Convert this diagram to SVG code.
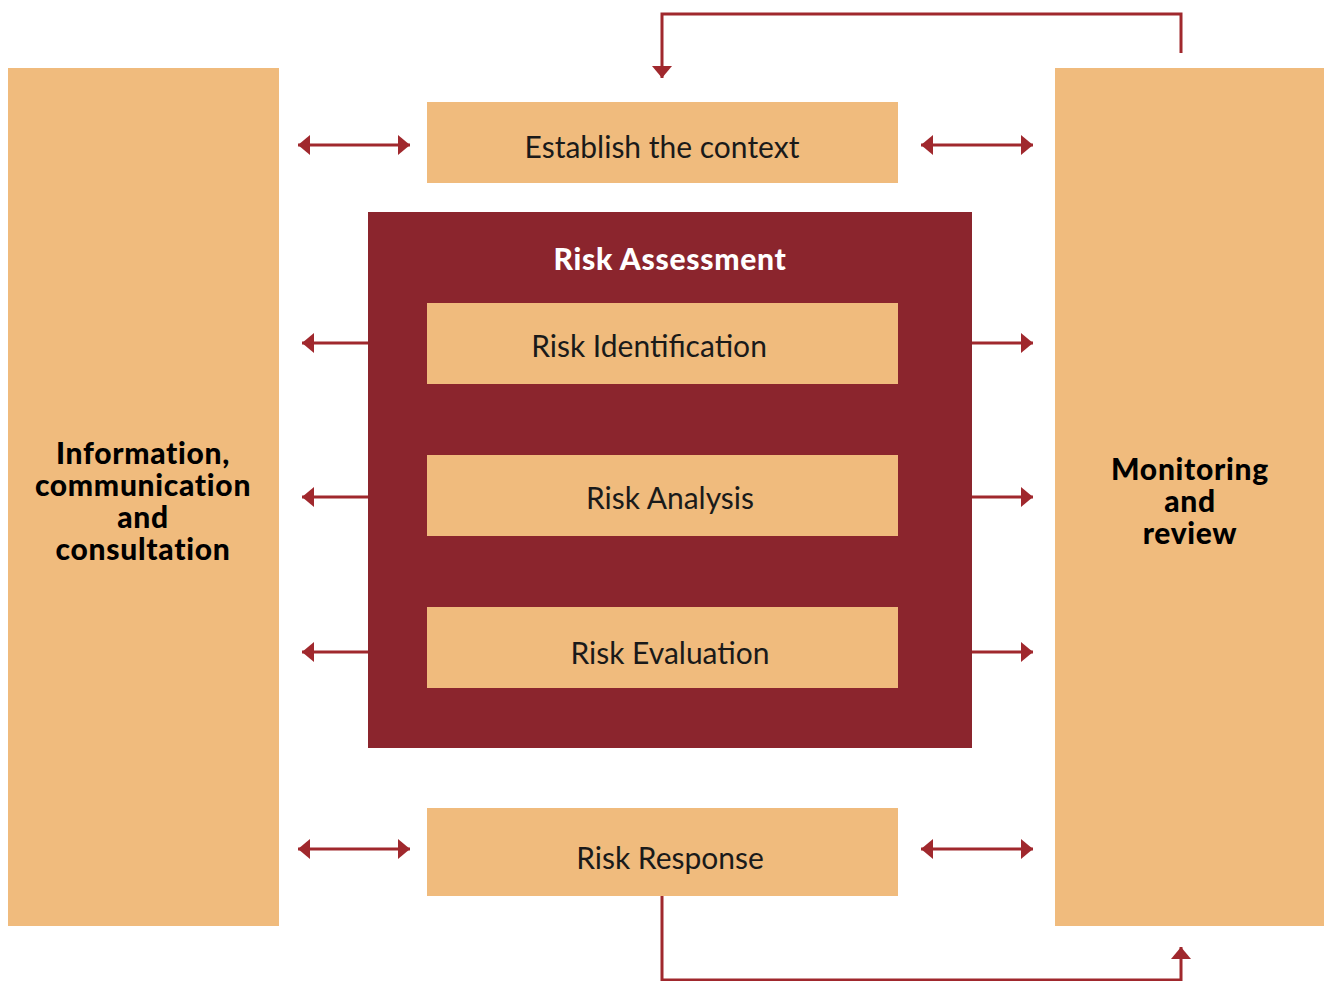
<svg xmlns="http://www.w3.org/2000/svg" width="1324" height="981" viewBox="0 0 1324 981">
  <style>
    .box { fill: #F0BB7D; }
    .frame { fill: #8B252D; }
    .lbl { font-family: Lato, "Open Sans", sans-serif; font-size: 30px; fill: #1a1a1a; text-anchor: middle; dominant-baseline: central; }
    .side { font-family: Lato, "Open Sans", sans-serif; font-size: 30px; font-weight: 900; letter-spacing: 0.7px; fill: #000; text-anchor: middle; }
    .title { font-family: Lato, "Open Sans", sans-serif; font-size: 30px; font-weight: 900; letter-spacing: 0.7px; fill: #fff; text-anchor: middle; dominant-baseline: central; }
    .conn { fill: none; stroke: #A0282D; stroke-width: 3; }
  </style>
  <defs>
    <marker id="head" viewBox="0 0 12 20" refX="12" refY="10" markerWidth="12" markerHeight="20" markerUnits="userSpaceOnUse" orient="auto-start-reverse">
      <path d="M0,0 L12,10 L0,20 Z" fill="#A0282D"/>
    </marker>
  </defs>

  <g id="info">
    <rect class="box" x="8" y="68" width="271" height="858"/>
    <text class="side" x="143" y="464">Information,</text>
    <text class="side" x="143" y="496">communication</text>
    <text class="side" x="143" y="528">and</text>
    <text class="side" x="143" y="560">consultation</text>
  </g>

  <g id="monitoring">
    <rect class="box" x="1055" y="68" width="269" height="858"/>
    <text class="side" x="1190" y="480">Monitoring</text>
    <text class="side" x="1190" y="512">and</text>
    <text class="side" x="1190" y="544">review</text>
  </g>

  <g id="context">
    <rect class="box" x="427" y="102" width="471" height="81"/>
    <text class="lbl" x="662" y="146">Establish the context</text>
  </g>

  <g id="assessment">
    <rect class="frame" x="368" y="212" width="604" height="536"/>
    <text class="title" x="670" y="258">Risk Assessment</text>
  </g>

  <g id="identification">
    <rect class="box" x="427" y="303" width="471" height="81"/>
    <text class="lbl" x="649" y="345">Risk Identification</text>
  </g>

  <g id="analysis">
    <rect class="box" x="427" y="455" width="471" height="81"/>
    <text class="lbl" x="670" y="497">Risk Analysis</text>
  </g>

  <g id="evaluation">
    <rect class="box" x="427" y="607" width="471" height="81"/>
    <text class="lbl" x="670" y="652">Risk Evaluation</text>
  </g>

  <g id="response">
    <rect class="box" x="427" y="808" width="471" height="88"/>
    <text class="lbl" x="670" y="857">Risk Response</text>
  </g>

  <g id="connectors">
    <!-- feedback loop over the top -->
    <path class="conn" d="M1181,53 V14 H662 V78" marker-end="url(#head)"/>
    <!-- loop under the bottom -->
    <path class="conn" d="M662,896 V980 H1181 V947" marker-end="url(#head)"/>
    <!-- two-way links -->
    <path class="conn" d="M298,145 H410" marker-start="url(#head)" marker-end="url(#head)"/>
    <path class="conn" d="M921,145 H1033" marker-start="url(#head)" marker-end="url(#head)"/>
    <path class="conn" d="M298,849 H410" marker-start="url(#head)" marker-end="url(#head)"/>
    <path class="conn" d="M921,849 H1033" marker-start="url(#head)" marker-end="url(#head)"/>
    <!-- outgoing from the assessment frame -->
    <path class="conn" d="M368,343 H302" marker-end="url(#head)"/>
    <path class="conn" d="M368,497 H302" marker-end="url(#head)"/>
    <path class="conn" d="M368,652 H302" marker-end="url(#head)"/>
    <path class="conn" d="M972,343 H1033" marker-end="url(#head)"/>
    <path class="conn" d="M972,497 H1033" marker-end="url(#head)"/>
    <path class="conn" d="M972,652 H1033" marker-end="url(#head)"/>
  </g>
</svg>
